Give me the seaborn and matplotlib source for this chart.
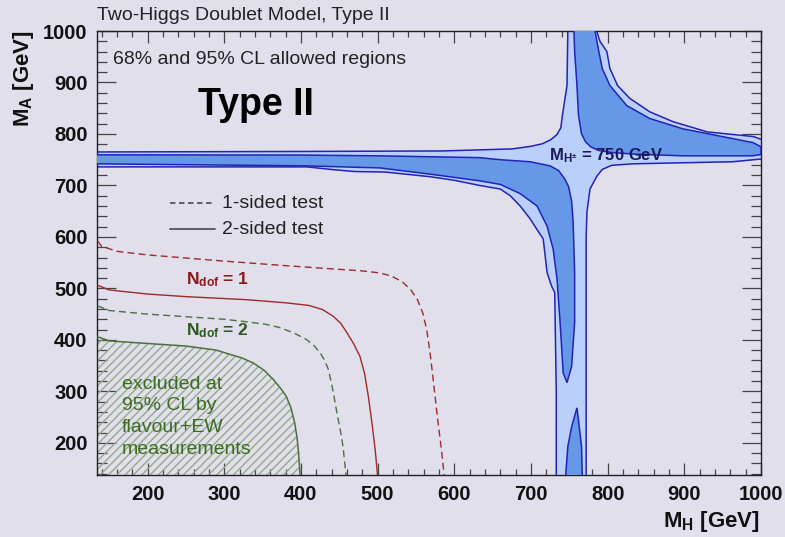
import numpy as np
import pandas as pd
import matplotlib
matplotlib.use("Agg")
import matplotlib.pyplot as plt
from matplotlib.ticker import MultipleLocator
import seaborn as sns

# ---------------- data (GeV) ----------------
# 95% CL allowed region (outer, light)
cl95_mh = [130, 400, 585, 676, 700, 715, 726, 734, 739, 741, 747, 748, 748, 786, 786, 790, 799, 803, 813, 829,
           855, 885, 930, 990, 1005, 1005, 963, 833, 805, 793, 786, 777, 773, 772, 772, 733, 733, 731, 727, 721,
           716, 705, 699, 686, 673, 660, 633, 600, 568, 510, 470, 440, 408, 130]
cl95_ma = [765, 766, 767, 771, 776, 781, 789, 799, 812, 836, 894, 990, 1005, 1005, 999, 980, 960, 927, 894, 869,
           843, 824, 804, 795, 787, 752, 746, 742, 739, 731, 718, 693, 648, 600, 130, 130, 300, 492, 504, 531,
           596, 621, 635, 660, 680, 693, 700, 710, 717, 726, 727, 731, 736, 736]
# 68% CL allowed regions (dark)
cl68a_mh = [130, 400, 503, 633, 660, 699, 725, 736, 744, 749, 753, 755, 757, 757, 753, 747, 742, 738, 734, 729,
            721, 708, 686, 660, 633, 568, 503, 408, 130]
cl68a_ma = [759.5, 759, 757.5, 754, 750, 746, 738, 729, 713, 698, 670, 629, 531, 434, 348, 317, 336, 434, 518, 576,
            621, 660, 684, 702, 709, 722, 734, 738, 742]
cl68b_mh = [756, 783, 787, 793, 803, 825, 855, 898, 963, 990, 1000, 1000, 989, 963, 898, 833, 805, 788, 778, 771,
            766, 762, 760, 757]
cl68b_ma = [1005, 1005, 972, 927, 894, 855, 830, 810, 791, 783, 775, 760, 757.5, 757.5, 757.5, 761, 764, 768, 775, 785,
            800, 836, 894, 960]
cl68c_mh = [745, 748, 753, 760, 763, 766, 767]
cl68c_ma = [130, 192, 231, 268, 231, 192, 130]

# flavour + EW exclusion curves (N_dof = 1 / 2, one- and two-sided tests)
ndof1_1s_mh = [135, 140, 160, 200, 250, 300, 372, 440, 480, 503, 518, 532, 543, 552, 559, 564, 568, 572, 578, 583, 587]
ndof1_1s_ma = [592, 582, 572, 565, 559, 553, 545, 538, 534, 530, 524, 513, 498, 478, 452, 420, 380, 330, 250, 190, 135]
ndof1_2s_mh = [135, 150, 200, 250, 330, 380, 410, 428, 442, 452, 460, 469, 477, 483, 488, 493, 497, 500]
ndof1_2s_ma = [506, 497, 489, 484, 478, 472, 467, 459, 446, 432, 414, 392, 368, 335, 290, 235, 185, 135]
ndof2_1s_mh = [135, 150, 200, 250, 300, 330, 355, 372, 390, 407, 417, 425, 431, 436, 442, 447, 452, 455, 459]
ndof2_1s_ma = [466, 457, 450, 445, 440, 435, 430, 424, 414, 401, 389, 375, 360, 342, 300, 258, 220, 192, 135]
ndof2_2s_mh = [135, 150, 200, 250, 290, 307, 323, 338, 352, 364, 374, 381, 387, 392, 395, 397, 399]
ndof2_2s_ma = [406, 398, 393, 388, 380, 372, 365, 355, 341, 323, 305, 290, 268, 238, 210, 180, 135]

x_limits = (134.5, 1000)
y_limits = (137.5, 1000)
x_ticks = [200, 300, 400, 500, 600, 700, 800, 900, 1000]
y_ticks = [200, 300, 400, 500, 600, 700, 800, 900, 1000]

# ---------------- style ----------------
sns.set_style("ticks")
BG = "#e0dfeb"
plt.rcParams["font.family"] = ["Liberation Sans", "DejaVu Sans"]
plt.rcParams["mathtext.fontset"] = "custom"
plt.rcParams["mathtext.rm"] = "Liberation Sans"
plt.rcParams["mathtext.bf"] = "Liberation Sans:bold"
plt.rcParams["mathtext.it"] = "Liberation Sans:italic"
plt.rcParams["hatch.linewidth"] = 1.0

LIGHT = "#bad0fb"
DARK = "#6598e6"
EDGE = "#2323b4"
RED = "#9e2a2a"
GREEN = "#4d6f3e"
TXTGREEN = "#3e6b22"

fig = plt.figure(figsize=(7.85, 5.37), dpi=100, facecolor=BG)
ax = fig.add_axes([97.3 / 785, 1 - 475 / 537, (761 - 97.3) / 785, (475 - 31) / 537])
ax.set_facecolor(BG)

# allowed regions
ax.fill(cl95_mh, cl95_ma, facecolor=LIGHT, edgecolor=EDGE, linewidth=1.1, zorder=2)
for mx, my in [(cl68a_mh, cl68a_ma), (cl68b_mh, cl68b_ma), (cl68c_mh, cl68c_ma)]:
    ax.fill(mx, my, facecolor=DARK, edgecolor=EDGE, linewidth=1.1, zorder=3)

# hatched exclusion
ax.fill_between(ndof2_2s_mh, y_limits[0] - 5, ndof2_2s_ma, facecolor="none",
                edgecolor="#93ab86", hatch="////", linewidth=0, zorder=1)

# curves
sns.lineplot(x=ndof1_1s_mh, y=ndof1_1s_ma, sort=False, estimator=None, color=RED,
             linewidth=1.0, ax=ax, zorder=4).lines[-1].set_dashes((5, 3))
sns.lineplot(x=ndof1_2s_mh, y=ndof1_2s_ma, sort=False, estimator=None, color=RED,
             linewidth=1.0, ax=ax, zorder=4)
sns.lineplot(x=ndof2_1s_mh, y=ndof2_1s_ma, sort=False, estimator=None, color=GREEN,
             linewidth=1.0, ax=ax, zorder=4).lines[-1].set_dashes((5, 3))
sns.lineplot(x=ndof2_2s_mh, y=ndof2_2s_ma, sort=False, estimator=None, color=GREEN,
             linewidth=1.1, ax=ax, zorder=4)

ax.set_xlim(*x_limits)
ax.set_ylim(*y_limits)
ax.set_xticks(x_ticks)
ax.set_yticks(y_ticks)
ax.xaxis.set_minor_locator(MultipleLocator(20))
ax.yaxis.set_minor_locator(MultipleLocator(20))
ax.tick_params(axis="both", which="both", direction="in", top=True, right=True, colors="#444444", width=0.9)
ax.tick_params(axis="x", which="major", length=8.6, pad=7)
ax.tick_params(axis="x", which="minor", length=4.0)
ax.tick_params(axis="y", which="major", length=13.7, pad=7)
ax.tick_params(axis="y", which="minor", length=7.0)
ax.tick_params(axis="both", which="major", labelcolor="#111111")
for lab in ax.get_xticklabels() + ax.get_yticklabels():
    lab.set_fontsize(14.5)
    lab.set_fontweight("bold")
for sp in ax.spines.values():
    sp.set_color("#222222")
    sp.set_linewidth(1.0)
ax.set_xlabel("")
ax.set_ylabel("")

# texts
fig.text(97 / 785, 1 - 15 / 537, "Two-Higgs Doublet Model, Type II", ha="left", va="center",
         fontsize=14, color="#222222")
fig.text(760 / 785, 1 - 522 / 537, r"$\mathbf{M_{H}}$ [GeV]", ha="right", va="center",
         fontsize=16, fontweight="bold", color="#111111")
fig.text(23 / 785, 1 - 30 / 537, r"$\mathbf{M_{A}}$ [GeV]", ha="center", va="top", rotation=90,
         fontsize=16, fontweight="bold", color="#111111")

ax.text(0.0237, 0.9347, "68% and 95% CL allowed regions", transform=ax.transAxes,
        ha="left", va="center", fontsize=14, color="#222222")
ax.text(0.239, 0.833, "Type II", transform=ax.transAxes, ha="center", va="center",
        fontsize=27, fontweight="bold", color="#000000")
ax.text(0.6806, 0.7095, r"$\mathbf{M_{H^{\pm}}}$ = 750 GeV", transform=ax.transAxes,
        ha="left", va="baseline", fontsize=12, fontweight="bold", color="#1a1a5a", zorder=6)

# legend
ax.plot([0.1095, 0.1773], [0.6126, 0.6126], transform=ax.transAxes, color="#555555",
        linewidth=1.3, dashes=(3, 2))
ax.plot([0.1095, 0.1773], [0.554, 0.554], transform=ax.transAxes, color="#555555", linewidth=1.3)
ax.text(0.188, 0.6126, "1-sided test", transform=ax.transAxes, ha="left", va="center",
        fontsize=14, color="#222222")
ax.text(0.188, 0.554, "2-sided test", transform=ax.transAxes, ha="left", va="center",
        fontsize=14, color="#222222")

ax.text(0.1336, 0.430, r"$\mathbf{N_{dof}}$ = 1", transform=ax.transAxes, ha="left", va="baseline",
        fontsize=12.5, fontweight="bold", color="#8b1a1a")
ax.text(0.1336, 0.315, r"$\mathbf{N_{dof}}$ = 2", transform=ax.transAxes, ha="left", va="baseline",
        fontsize=12.5, fontweight="bold", color="#2d5a1e")

ax.text(0.0372, 0.224, "excluded at\n95% CL by\nflavour+EW\nmeasurements", transform=ax.transAxes,
        ha="left", va="top", fontsize=14, color=TXTGREEN, linespacing=1.38, zorder=5)

fig.savefig("out.png", dpi=100, facecolor=BG)
